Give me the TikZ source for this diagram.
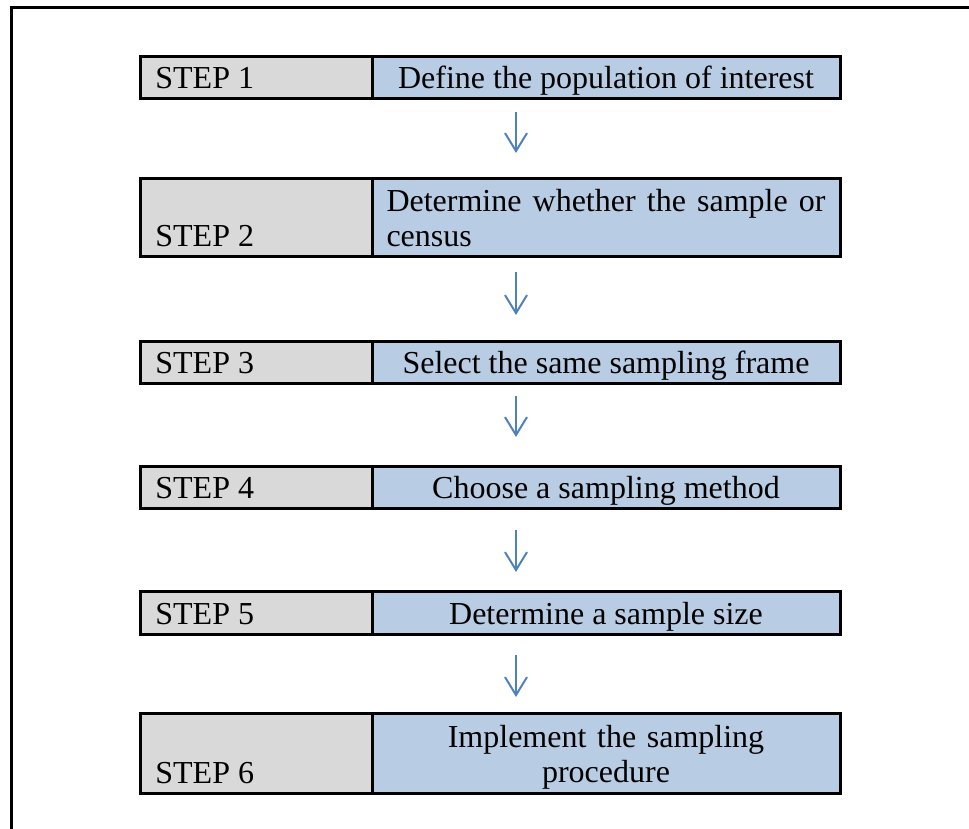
\documentclass[tikz,border=0pt]{standalone}
\usepackage{fontspec}
\setmainfont{Liberation Serif}
\usetikzlibrary{arrows.meta}
\definecolor{stepgray}{HTML}{D9D9D9}
\definecolor{stepblue}{HTML}{B8CCE4}
\definecolor{arrowblue}{HTML}{4F81BD}
\tikzset{
  cell/.style={draw=black, line width=1.5pt, outer sep=0pt, inner sep=0pt, anchor=north west},
  graycell/.style={cell, fill=stepgray, minimum width=116pt},
  bluecell/.style={cell, fill=stepblue, minimum width=234pt},
  steplabel/.style={anchor=base west, inner sep=0pt},
  steptext/.style={anchor=base, inner sep=0pt},
  downarrow/.style={draw=arrowblue, line width=1pt, -{Straight Barb[length=9pt,width=11pt]}}
}
\begin{document}
\begin{tikzpicture}[x=0.5pt,y=-0.5pt,font=\fontsize{16}{17.5}\selectfont]
\useasboundingbox (0,0) rectangle (969,829);
\draw[line width=1.5pt] (11,829) -- (11,8) -- (969,8);%
% rows
\node[graycell, minimum height=21pt] (s1) at (140,57) {};
\node[bluecell, minimum height=21pt] (d1) at (s1.north east) {};
\node[graycell, minimum height=39pt] (s2) at (140,178) {};
\node[bluecell, minimum height=39pt] (d2) at (s2.north east) {};
\node[graycell, minimum height=21pt] (s3) at (140,341) {};
\node[bluecell, minimum height=21pt] (d3) at (s3.north east) {};
\node[graycell, minimum height=21pt] (s4) at (140,466) {};
\node[bluecell, minimum height=21pt] (d4) at (s4.north east) {};
\node[graycell, minimum height=21.5pt] (s5) at (140,591) {};
\node[bluecell, minimum height=21.5pt] (d5) at (s5.north east) {};
\node[graycell, minimum height=40pt] (s6) at (140,713) {};
\node[bluecell, minimum height=40pt] (d6) at (s6.north east) {};
% step numbers
\foreach \i in {1,...,6}
  \node[steplabel] (l\i) at ([shift={(7.5pt,5pt)}]s\i.south west) {STEP \i};
% texts
\node[steptext] (t1) at ([yshift=5pt]d1.south) {Define the population of interest};
\node[steptext, text width=219.5pt, align=justify] (t2) at ([yshift=22.5pt]d2.south)
  {\tolerance=9999 Determine whether the sample or census};
\node[steptext] (t3) at ([yshift=5pt]d3.south) {Select the same sampling frame};
\node[steptext] (t4) at ([yshift=5pt]d4.south) {Choose a sampling method};
\node[steptext] (t5) at ([yshift=5pt]d5.south) {Determine a sample size};
\node[steptext, text width=200pt, align=center] (t6) at ([yshift=23pt]d6.south)
  {Implement the sampling\\procedure};
% arrows
\coordinate (ax) at (516,0);
\foreach \a/\b/\s/\e in {1/2/6.5pt/12.5pt, 2/3/8pt/13pt, 3/4/6.5pt/14.5pt, 4/5/11pt/9.5pt, 5/6/10.5pt/8pt}
  \draw[downarrow, shorten <=\s, shorten >=\e] (d\a.south -| ax) -- (d\b.north -| ax);
\end{tikzpicture}
\end{document}
